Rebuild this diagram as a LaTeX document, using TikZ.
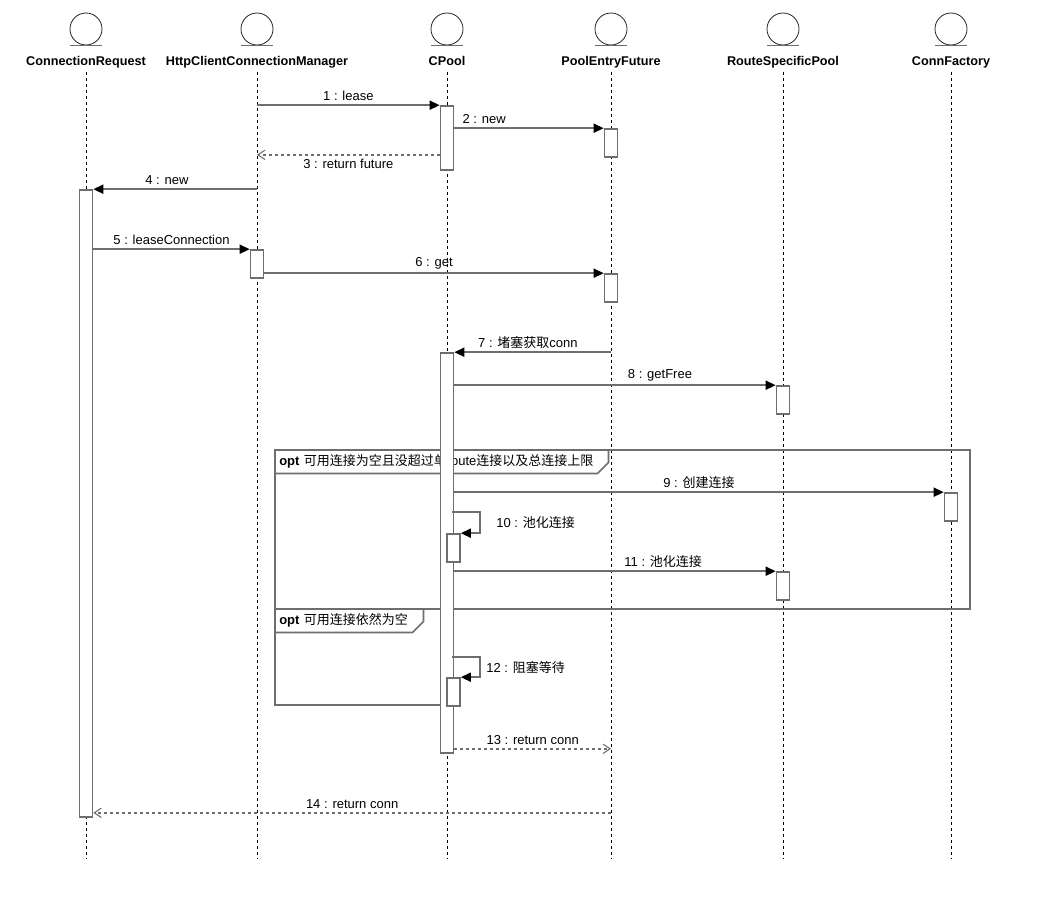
\documentclass[tikz,border=0pt]{standalone}
\usepackage{fontspec}
\setmainfont{Liberation Sans}
\newfontfamily\cjk{Noto Sans CJK SC}
\usepackage{xcolor}
\usepackage{tikz}
\usetikzlibrary{arrows.meta}
\definecolor{linegray}{RGB}{110,110,110}
\newcommand{\zhtext}[1]{{\cjk #1}}

\begin{document}
\begin{tikzpicture}[x=0.75pt, y=-0.75pt,
  actorhead/.style={circle, draw=black!85, line width=0.6pt, minimum size=24pt, inner sep=0pt},
  actorname/.style={font=\fontsize{9.5}{11}\selectfont\bfseries, text height=7pt, text depth=2pt, inner xsep=1pt, inner ysep=2.5pt},
  life/.style={draw=black, line width=0.6pt, dash pattern=on 2.25pt off 2.25pt},
  bar/.style={draw=linegray, line width=1.2pt, fill=white, minimum width=9.75pt, inner sep=0pt},
  lbl/.style={font=\fontsize{9.75}{11}\selectfont, inner sep=2.5pt},
  msg/.style={draw=linegray, line width=1.2pt, -{Triangle[length=7.5pt, width=6.75pt, color=black]}},
  ret/.style={draw=linegray, line width=1.2pt, dash pattern=on 2.25pt off 2.25pt, -{Straight Barb[length=5.25pt, width=7pt, color=linegray, line width=0.8pt]}},
  optframe/.style={draw=linegray, line width=1.2pt},
  opttab/.style={anchor=north west, font=\fontsize{9.75}{11}\selectfont, inner xsep=3pt, inner ysep=0pt, minimum height=17.25pt, align=left}]
\fill[white] (0,0) rectangle (1040,906);
\useasboundingbox (0,0) rectangle (1040,906);

% actors
\node[actorhead] (CR) at (86,29) {};
\node[actorhead] (HM) at (257,29) {};
\node[actorhead] (CP) at (447,29) {};
\node[actorhead] (PE) at (611,29) {};
\node[actorhead] (RS) at (783,29) {};
\node[actorhead] (CF) at (951,29) {};
\node[actorname] (CRn) at (86,62) {ConnectionRequest};
\node[actorname] (HMn) at (257,62) {HttpClientConnectionManager};
\node[actorname] (CPn) at (447,62) {CPool};
\node[actorname] (PEn) at (611,62) {PoolEntryFuture};
\node[actorname] (RSn) at (783,62) {RouteSpecificPool};
\node[actorname] (CFn) at (951,62) {ConnFactory};
\coordinate (bottom) at (0,858);

\draw[linegray, line width=1.2pt] (CR.west |- CR.south) -- (CR.east |- CR.south)
  (HM.west |- HM.south) -- (HM.east |- HM.south)
  (CP.west |- CP.south) -- (CP.east |- CP.south)
  (PE.west |- PE.south) -- (PE.east |- PE.south)
  (RS.west |- RS.south) -- (RS.east |- RS.south)
  (CF.west |- CF.south) -- (CF.east |- CF.south);

% lifelines
\draw[life] (CRn.south) -- (CRn |- bottom);
\draw[life] (HMn.south) -- (HMn |- bottom);
\draw[life] (CPn.south) -- (CPn |- bottom);
\draw[life] (PEn.south) -- (PEn |- bottom);
\draw[life] (RSn.south) -- (RSn |- bottom);
\draw[life] (CFn.south) -- (CFn |- bottom);

% opt frames
\draw[optframe] (275,450) rectangle (970,609);
\node[opttab, text width=243.75pt] (T1) at (275,450) {\textbf{opt} \zhtext{可用连接为空且没超过单}route\zhtext{连接以及总连接上限}};
\draw[optframe] (T1.south west) -- ([xshift=-8.25pt]T1.south east) -- ([yshift=8.25pt]T1.south east) -- (T1.north east);
\draw[optframe] (275,609) rectangle (447,705);
\node[opttab, text width=105pt] (T2) at (275,609) {\textbf{opt} \zhtext{可用连接依然为空}};
\draw[optframe] (T2.south west) -- ([xshift=-8.25pt]T2.south east) -- ([yshift=8.25pt]T2.south east) -- (T2.north east);

% activations
\node[bar, minimum height=48pt] (CP1) at (447,138) {};
\node[bar, minimum height=21pt] (PE1) at (611,143) {};
\node[bar, minimum height=470.25pt] (CRb) at (86,503.5) {};
\node[bar, minimum height=21pt] (HMb) at (257,264) {};
\node[bar, minimum height=21pt] (PE2) at (611,288) {};
\node[bar, minimum height=300pt] (CP2) at (447,553) {};
\node[bar, minimum height=21pt] (RS1) at (783,400) {};
\node[bar, minimum height=21pt] (CF1) at (951,507) {};
\node[bar, minimum height=21pt] (CP3) at (453.5,548) {};
\node[bar, minimum height=21pt] (RS2) at (783,586) {};
\node[bar, minimum height=21pt] (CP4) at (453.5,692) {};

% messages
\draw[msg] (HMn |- CP1.north west) -- node[lbl, above] {1 : lease} (CP1.north west);
\draw[msg] (CP1.east |- PE1.north west) -- node[lbl, above, pos=0.2] {2 : new} (PE1.north west);
\coordinate (s3) at ([yshift=12pt]CP1.south west);
\draw[ret] (s3) -- node[lbl, below] {3 : return future} (HMn |- s3);
\draw[msg] (HMn |- CRb.north east) -- node[lbl, above, pos=0.55] {4 : new} (CRb.north east);
\draw[msg] (CRb.east |- HMb.north west) -- node[lbl, above] {5 : leaseConnection} (HMb.north west);
\draw[msg] (HMb.east |- PE2.north west) -- node[lbl, above] {6 : get} (PE2.north west);
\draw[msg] (PEn |- CP2.north east) -- node[lbl, above, pos=0.53] {7 : \zhtext{堵塞获取}conn} (CP2.north east);
\draw[msg] (CP2.east |- RS1.north west) -- node[lbl, above, pos=0.64] {8 : getFree} (RS1.north west);
\draw[msg] (CP2.east |- CF1.north west) -- node[lbl, above] {9 : \zhtext{创建连接}} (CF1.north west);
\draw[msg] ([shift={(6,-21)}]CP3.north west) -- ++(28,0) |- node[lbl, right, pos=0.25, xshift=9pt] {10 : \zhtext{池化连接}} (CP3.north east);
\draw[msg] (CP2.east |- RS2.north west) -- node[lbl, above, pos=0.65] {11 : \zhtext{池化连接}} (RS2.north west);
\draw[msg] ([shift={(6,-20)}]CP4.north west) -- ++(28,0) |- node[lbl, right, pos=0.25, xshift=1.5pt] {12 : \zhtext{阻塞等待}} (CP4.north east);
\coordinate (s13) at ([yshift=3.75pt]CP2.south east);
\draw[ret] (s13) -- node[lbl, above] {13 : return conn} (PEn |- s13);
\coordinate (e14) at ([yshift=3.75pt]CRb.south east);
\draw[ret] (PEn |- e14) -- node[lbl, above] {14 : return conn} (e14);
\end{tikzpicture}
\end{document}
